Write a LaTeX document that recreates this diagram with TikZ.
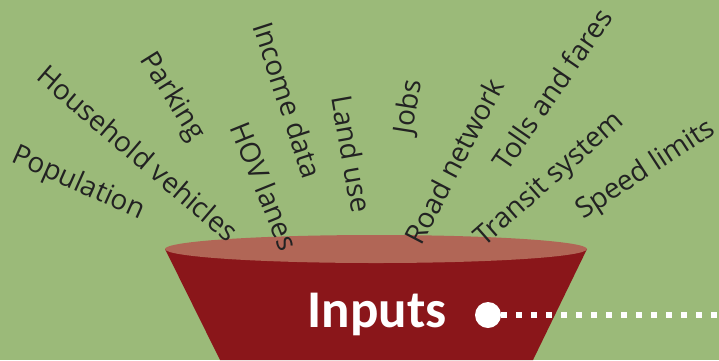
\documentclass[tikz,border=0pt]{standalone}
\usepackage{fontspec}
\setmainfont{Open Sans}
\newfontfamily\inpfont{Carlito}
\definecolor{bgcol}{HTML}{9BBA79}
\definecolor{funnelcol}{HTML}{8A161A}
\definecolor{rimcol}{HTML}{B16656}
\definecolor{labcol}{HTML}{222222}
\begin{document}
\begin{tikzpicture}[x=1pt,y=-1pt,
  lab/.style={font=\fontsize{28}{32}\selectfont, text=labcol, inner sep=0pt},
  dotline/.style={draw=white, line width=6pt, dash pattern=on 6pt off 9pt}]
\fill[bgcol] (0,0) rectangle (719,360);
\useasboundingbox (0,0) rectangle (719,360);
\fill[funnelcol] (165,249) -- (587,249) -- (533,360) -- (220,360) -- cycle;
\fill[rimcol] (376,249) ellipse [x radius=211, y radius=14];
\node[lab, rotate=-24] (pop) at (78,184) {Population};
\node[lab, rotate=-40.5] (hh) at (138,153) {Household vehicles};
\node[lab, rotate=-58] (park) at (172,97) {Parking};
\node[lab, rotate=-68] (hov) at (265,186) {HOV lanes};
\node[lab, rotate=-72] (inc) at (288,100) {Income data};
\node[lab, rotate=-80] (land) at (352,154) {Land use};
\node[lab, rotate=81] (jobs) at (409,107) {Jobs};
\node[lab, rotate=62.5] (road) at (454,161) {Road network};
\node[lab, rotate=55.5] (tolls) at (552,89) {Tolls and fares};
\node[lab, rotate=41.5] (transit) at (550,180) {Transit system};
\node[lab, rotate=33] (speed) at (646,170) {Speed limits};
\node[font=\inpfont\bfseries\fontsize{53}{60}\selectfont, text=white, inner sep=0pt, anchor=base] (inp) at (377,327) {Inputs};
\node[circle, fill=white, minimum size=26pt, inner sep=0pt] (dot) at (488,315) {};
\coordinate (end) at (725,315);
\draw[dotline] (dot.east) -- (end);
\end{tikzpicture}
\end{document}
